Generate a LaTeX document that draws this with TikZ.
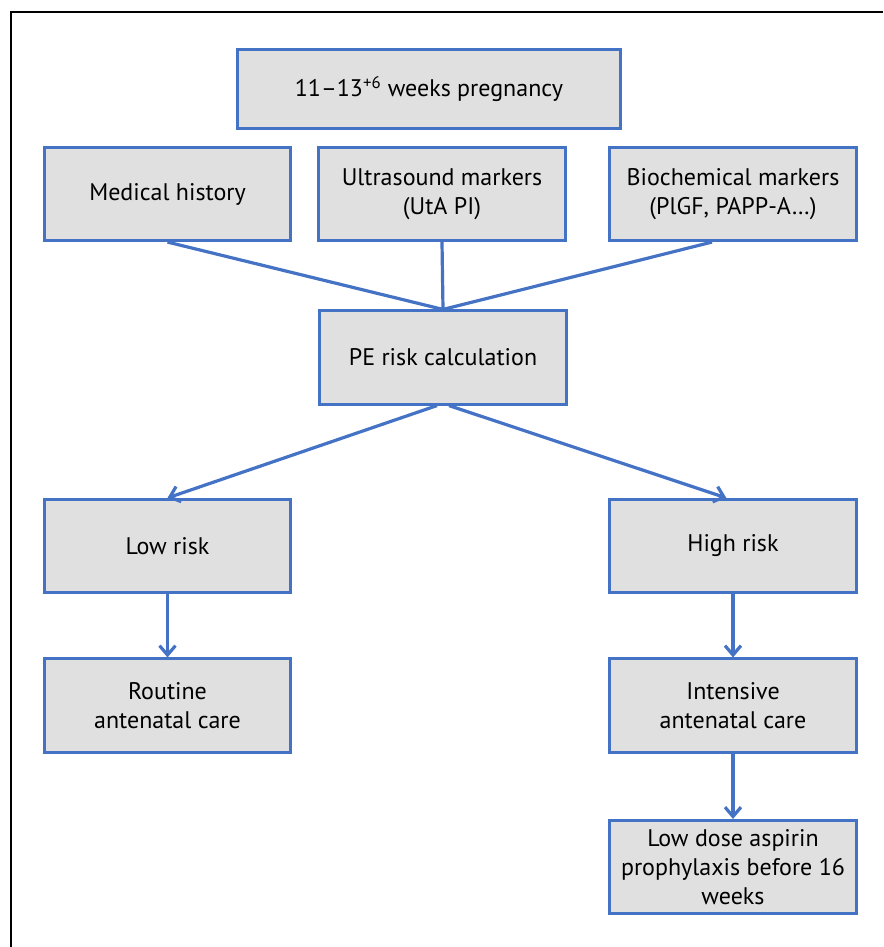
\documentclass[tikz,border=0pt]{standalone}
\usepackage{fontspec}
\setmainfont{PT Sans}
\usepackage{xcolor}
\usepackage{tikz}
\usetikzlibrary{
  arrows.meta
}
\definecolor{FrameBlue}{RGB}{68, 114, 196}
\definecolor{BoxGray}{RGB}{224, 224, 224}
\tikzset{
    stepbox/.style={
        rectangle, draw=FrameBlue, fill=BoxGray, line width=2.1pt,
        minimum width=185pt, minimum height=70pt, inner sep=2pt,
        align=center, font=\fontsize{18}{21.75}\selectfont
    },
    link/.style={draw=FrameBlue, line width=2.4pt},
    flow/.style={link, -{Straight Barb[length=7pt, width=12pt]}},
}

\begin{document}
\begin{tikzpicture}[x=0.75pt, y=-0.75pt]
            \useasboundingbox (0,0) rectangle (883,947);
            \draw[line width=1.7pt] (883,12) -- (11,12) -- (11,947);

            \node[stepbox, minimum width=287.5pt, minimum height=59.5pt] (weeks) at (429,89) {11–13\textsuperscript{+6} weeks pregnancy};
            \node[stepbox] (history) at (167.5,194) {Medical history};
            \node[stepbox] (ultrasound) at (442,194) {Ultrasound markers\\(UtA PI)};
            \node[stepbox] (biochem) at (733,194) {Biochemical markers\\(PlGF, PAPP-A…)};
            \node[stepbox] (pe) at (443,357.5) {PE risk calculation};
            \node[stepbox] (low) at (167.5,546) {Low risk};
            \node[stepbox] (high) at (733,546) {High risk};
            \node[stepbox] (routine) at (167.5,705.5) {Routine\\antenatal care};
            \node[stepbox] (intensive) at (733,705.5) {Intensive\\antenatal care};
            \node[stepbox] (aspirin) at (733,867) {Low dose aspirin\\prophylaxis before 16\\weeks};

            \draw[link] (history.south) -- (pe.north);
            \draw[link] (ultrasound.south) -- (pe.north);
            \draw[link] ([xshift=-15.75pt]biochem.south) -- (pe.north);
            \draw[flow] ([xshift=-4.5pt]pe.south) -- (low.north);
            \draw[flow] ([xshift=4.5pt]pe.south) -- ([xshift=-5pt]high.north);
            \draw[flow] (low.south) -- (routine.north);
            \draw[flow] (high.south) -- (intensive.north);
            \draw[flow] (intensive.south) -- (aspirin.north);
        \end{tikzpicture}
\end{document}
